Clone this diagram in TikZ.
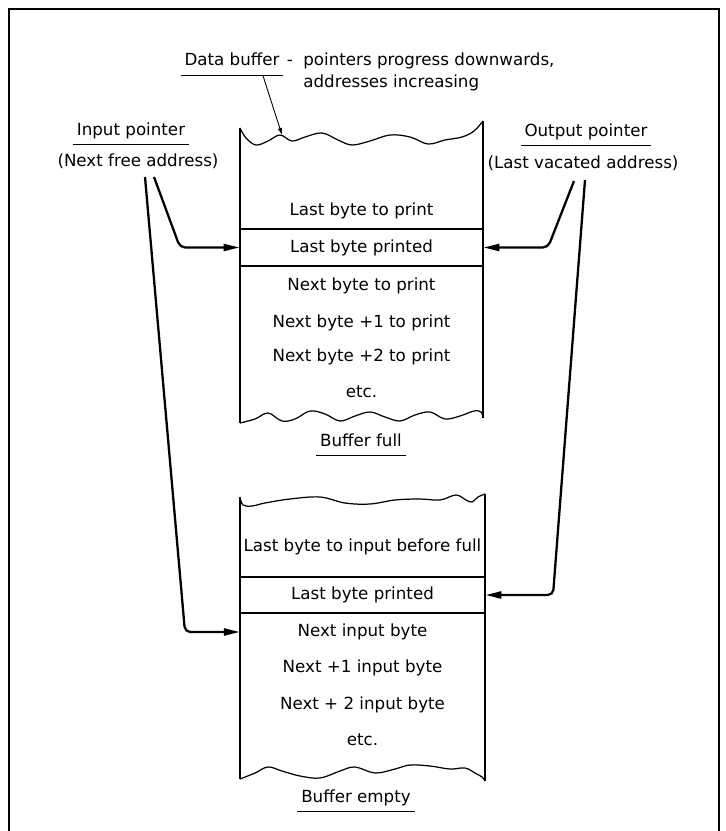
\documentclass[tikz,border=0pt]{standalone}
\usepackage{fontspec}
\setmainfont{DejaVu Sans}
\usetikzlibrary{positioning, calc, arrows.meta}

\begin{document}
\begin{tikzpicture}[
  x=0.02cm, y=-0.02cm,
  font=\fontsize{9.5}{11}\selectfont,
  >={Triangle[length=9pt,width=4pt]},
  row/.style={minimum width=\bw cm, minimum height=\rh cm, inner sep=0pt},
  ptr/.style={->, line width=1.3pt, rounded corners=3pt},
  edge/.style={line width=0.7pt},
  ttl/.style={inner sep=2pt, text depth=0.3em},
  uline/.style={line width=0.6pt},
]
\useasboundingbox (0,0) rectangle (726,831);

% outer frame (open at the foot of the page)
\draw[line width=1.1pt] (9,845) -- (9,9) -- (719,9) -- (719,845);

% =====================================================================
% Heading and pointer labels
% =====================================================================
\node[ttl, anchor=base] (dbuf) at (232,66) {Data buffer};
\draw[uline] (dbuf.south west) -- (dbuf.south east);
\node[anchor=base, inner sep=0pt] (dash) at (290,66) {-};
\node[anchor=base west, inner sep=0pt] (dnoteA) at (303,66) {pointers progress downwards,};
\node[anchor=base west, inner sep=0pt] (dnoteB) at (303,88) {addresses increasing};
\coordinate (dbTip) at (282,135);
\draw[-{Latex[length=4pt,width=2.5pt]}, line width=0.5pt]
  ($(dbuf.south)!0.6!(dbuf.south east)$) -- (dbTip);

\node[ttl] (ipl) at (131,132) {Input pointer};
\draw[uline] (ipl.south west) -- (ipl.south east);
\node (ipsub) at (138,161) {(Next free address)};

\node[ttl] (opl) at (586,133) {Output pointer};
\draw[uline] (opl.south west) -- (opl.south east);
\node (opsub) at (583,163) {(Last vacated address)};

% =====================================================================
% Top buffer -- full
% =====================================================================
\pgfmathsetmacro{\bw}{4.86}
\pgfmathsetmacro{\rh}{0.74}
\draw[edge] plot[smooth, tension=0.6] coordinates {(240,128) (246,138) (256,145)
  (268,141) (280,135) (292,141) (305,137) (322,133) (338,140) (352,145)
  (370,141) (390,135) (410,137) (428,144) (445,140) (462,137) (474,131) (483,121)};
\draw[edge] (240,128) -- (240,423);
\draw[edge] (483,121) -- (483,418);
\draw[edge] plot[smooth, tension=0.6] coordinates {(240,423) (255,419) (268,413)
  (282,421) (295,419) (310,411) (325,414) (340,421) (355,416) (370,412)
  (385,417) (400,421) (415,415) (430,412) (445,419) (460,416) (474,411) (481,412) (483,418)};

\node[row] (fLastTo)   at (361.5,211)   {Last byte to print};
\node[row, draw, edge] (fLastPr) at (361.5,247.5) {Last byte printed};
\node[row] (fNext)     at (361.5,286)   {Next byte to print};
\node[row] (fNext1)    at (361.5,323)   {Next byte +1 to print};
\node[row] (fNext2)    at (361.5,357)   {Next byte +2 to print};
\node[row] (fEtc)      at (361.5,392)   {etc.};
\node[ttl] (fFull)     at (361,443)     {Buffer full};
\draw[uline] (fFull.south west) -- (fFull.south east);

% =====================================================================
% Bottom buffer -- empty
% =====================================================================
\pgfmathsetmacro{\bw}{4.90}
\pgfmathsetmacro{\rh}{0.72}
\draw[edge] plot[smooth, tension=0.6] coordinates {(240,497) (243,505) (252,506)
  (265,503) (290,499) (320,497) (345,503) (370,504) (395,500) (420,499)
  (440,500) (456,495) (466,500) (472,502) (478,497) (485,494)};
\draw[edge] (240,497) -- (240,779);
\draw[edge] (485,494) -- (485,781);
\draw[edge] plot[smooth, tension=0.6] coordinates {(240,779) (255,773) (268,767)
  (282,771) (300,776) (320,778) (340,771) (355,767) (375,773) (395,769)
  (410,765) (430,766) (450,769) (465,768) (475,773) (482,777) (485,781)};

\node[row] (eLastIn)   at (362.5,547)   {Last byte to input before full};
\node[row, draw, edge] (eLastPr) at (362.5,595) {Last byte printed};
\node[row] (eNext)     at (362.5,632)   {Next input byte};
\node[row] (eNext1)    at (362.5,668)   {Next +1 input byte};
\node[row] (eNext2)    at (362.5,705)   {Next + 2 input byte};
\node[row] (eEtc)      at (362.5,740)   {etc.};
\node[ttl] (eEmpty)    at (356,799)     {Buffer empty};
\draw[uline] (eEmpty.south west) -- (eEmpty.south east);

% =====================================================================
% Pointer arrows
% =====================================================================
\coordinate (inA)  at (154,177);
\coordinate (inAb) at (180,247.5);
\coordinate (inB)  at (145,177);
\coordinate (inBb) at (185,632);
\coordinate (outA)  at (574,181);
\coordinate (outAb) at (548,247.5);
\coordinate (outB)  at (585,180);
\coordinate (outBb) at (553,595);

\draw[ptr] (inA) -- (inAb) -- (fLastPr.west);
\draw[ptr] (inB) -- (inBb) -- (eNext.west);
\draw[ptr] (outA) -- (outAb) -- (fLastPr.east);
\draw[ptr] (outB) -- (outBb) -- (eLastPr.east);

\end{tikzpicture}
\end{document}
